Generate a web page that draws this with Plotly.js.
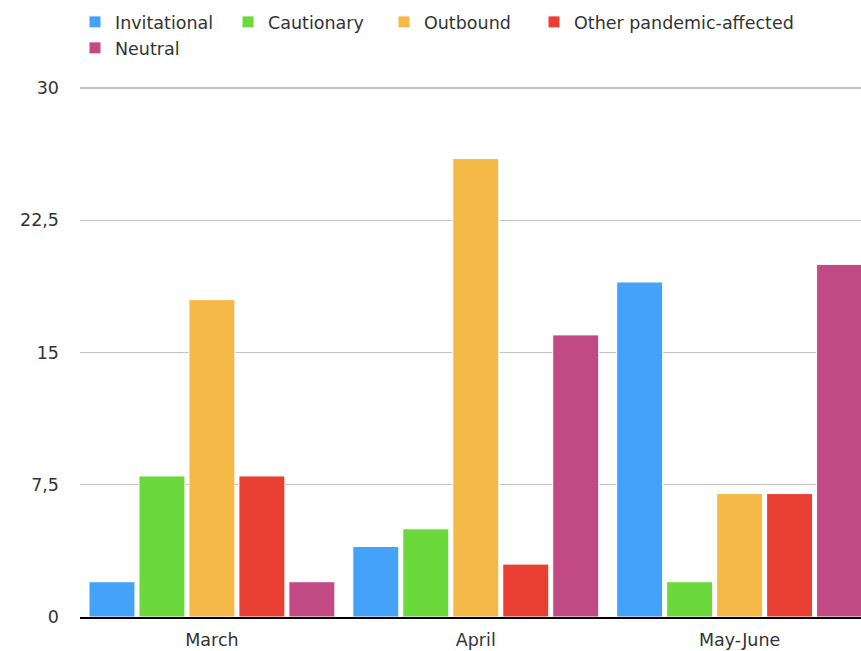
<!DOCTYPE html>
<html>
<head>
<meta charset="utf-8">
<script src="https://cdn.plot.ly/plotly-3.0.1.min.js"></script>
<style>html,body{margin:0;padding:0;background:#fff;}#chart{width:861px;height:651px;}</style>
</head>
<body>
<div id="chart"></div>
<script>
const categories = ["March", "April", "May-June"];
const seriesNames = ["Invitational", "Cautionary", "Outbound", "Other pandemic-affected", "Neutral"];
const invitational = [2, 4, 19];
const cautionary = [8, 5, 2];
const outbound = [18, 26, 7];
const otherPandemic = [8, 3, 7];
const neutral = [2, 16, 20];
const yTicks = [0, 7.5, 15, 22.5, 30];

const colors = ["#44a2f8", "#6bd93b", "#f5b947", "#ea4034", "#c14984"];
const values = [invitational, cautionary, outbound, otherPandemic, neutral];
const legendIds = ["legend", "legend2", "legend3", "legend4", "legend5"];
const legendPos = [[75, 22], [228, 22], [384, 22], [534, 22], [75, 48]];

const FONT = "DejaVu Sans, Liberation Sans, Arial, sans-serif";
const TXT = "#333333";

const traces = seriesNames.map((name, i) => ({
  type: "bar",
  name: name,
  x: categories,
  y: values[i],
  legend: legendIds[i],
  marker: { color: colors[i], line: { color: "#ffffff", width: 1 } },
  hoverinfo: "x+y+name"
}));

const layout = {
  width: 861,
  height: 651,
  margin: { l: 80, r: 0, t: 87, b: 34 },
  paper_bgcolor: "#ffffff",
  plot_bgcolor: "#ffffff",
  barmode: "group",
  bargap: 0.053,
  bargroupgap: 0.08,
  separators: ",.",
  font: { family: FONT, size: 17.5, color: TXT },
  xaxis: {
    type: "category",
    range: [-0.5, 2.46],
    showgrid: false,
    showline: true,
    linecolor: "#000000",
    linewidth: 1.5,
    ticks: "",
    ticklabelstandoff: 6,
    tickfont: { family: FONT, size: 17.5, color: TXT },
    automargin: false,
    fixedrange: true
  },
  yaxis: {
    range: [0, 30.06],
    tickvals: yTicks,
    showgrid: true,
    gridcolor: "#c4c4c4",
    gridwidth: 1.3,
    zeroline: false,
    showline: false,
    ticks: "",
    ticklabelstandoff: 20,
    tickfont: { family: FONT, size: 17.5, color: TXT },
    automargin: false,
    fixedrange: true
  },
  showlegend: true
};

legendIds.forEach((id, i) => {
  layout[id] = {
    xref: "container",
    yref: "container",
    x: legendPos[i][0] / 861,
    y: 1 - legendPos[i][1] / 651,
    xanchor: "left",
    yanchor: "middle",
    orientation: "h",
    bgcolor: "rgba(0,0,0,0)",
    borderwidth: 0,
    font: { family: FONT, size: 17.5, color: TXT }
  };
});

Plotly.newPlot("chart", traces, layout, { displayModeBar: false, staticPlot: true });
</script>
</body>
</html>
